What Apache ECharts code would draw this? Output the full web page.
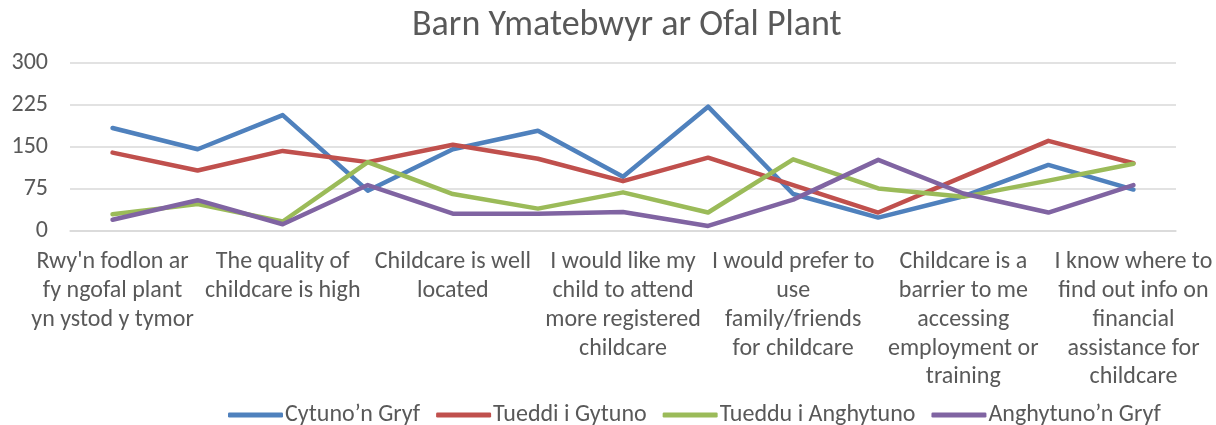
<!DOCTYPE html>
<html>
<head>
<meta charset="utf-8">
<script src="https://cdn.jsdelivr.net/npm/echarts@6/dist/echarts.min.js"></script>
<style>
    html, body {margin: 0; padding: 0; background: #fff;}
    #chart {width: 1216px; height: 425px;}
</style>
</head>
<body>
<div id="chart"></div>
<script>
    // categories: only every other one carries a label in the original
    const categories = [
        "Rwy'n fodlon ar\nfy ngofal plant\nyn ystod y tymor", '',
        'The quality of\nchildcare is high', '',
        'Childcare is well\nlocated', '',
        'I would like my\nchild to attend\nmore registered\nchildcare', '',
        'I would prefer to\nuse\nfamily/friends\nfor childcare', '',
        'Childcare is a\nbarrier to me\naccessing\nemployment or\ntraining', '',
        'I know where to\nfind out info on\nfinancial\nassistance for\nchildcare'
    ];
    const seriesNames = ['Cytuno’n Gryf', 'Tueddi i Gytuno', 'Tueddu i Anghytuno', 'Anghytuno’n Gryf'];
    const cytuno = [184, 146, 207, 72, 146, 179, 97, 222, 66, 24, 62, 118, 74];
    const tueddiGytuno = [140, 108, 143, 123, 154, 129, 89, 131, 82, 33, 97, 161, 121];
    const tueddiAnghytuno = [30, 48, 17, 123, 66, 40, 69, 33, 128, 76, 61, 90, 120];
    const anghytuno = [20, 55, 12, 82, 31, 31, 34, 9, 56, 127, 67, 33, 82];
    const yTicks = [0, 75, 150, 225, 300];
    const colors = ['#4F81BD', '#C0504D', '#9BBB59', '#8064A2'];

    const font = 'Carlito, Calibri, Lato, sans-serif';
    const chart = echarts.init(document.getElementById('chart'));

    const makeLine = (name, data) => ({
        name: name,
        type: 'line',
        data: data,
        symbol: 'none',
        lineStyle: {width: 4.5, cap: 'round', join: 'round'}
    });

    const option = {
        color: colors,
        animation: false,
        title: {
            text: 'Barn Ymatebwyr ar Ofal Plant',
            left: 407,
            top: 3,
            textStyle: {fontFamily: font, fontSize: 36, fontWeight: 'normal', color: '#595959'}
        },
        grid: {left: 70, right: 40, top: 63, bottom: 194, containLabel: false},
        legend: {
            top: 398,
            left: 223,
            icon: 'roundRect',
            itemWidth: 55,
            itemHeight: 5,
            itemGap: 16,
            textStyle: {fontFamily: font, fontSize: 24, color: '#595959', padding: [0, 0, 0, -3]},
            data: seriesNames
        },
        xAxis: {
            type: 'category',
            data: categories,
            boundaryGap: true,
            axisLine: {lineStyle: {color: '#d9d9d9', width: 1.5}},
            axisTick: {show: false},
            axisLabel: {
                interval: 0,
                margin: 17,
                fontFamily: font,
                fontSize: 24,
                lineHeight: 28.75,
                color: '#595959',
                verticalAlign: 'top'
            }
        },
        yAxis: {
            type: 'value',
            min: yTicks[0],
            max: yTicks[yTicks.length - 1],
            interval: yTicks[1] - yTicks[0],
            axisLine: {show: false},
            axisTick: {show: false},
            splitLine: {lineStyle: {color: '#d9d9d9', width: 1.5}},
            axisLabel: {margin: 22, fontFamily: font, fontSize: 24, color: '#595959'}
        },
        series: [
            makeLine(seriesNames[0], cytuno),
            makeLine(seriesNames[1], tueddiGytuno),
            makeLine(seriesNames[2], tueddiAnghytuno),
            makeLine(seriesNames[3], anghytuno)
        ]
    };

    chart.setOption(option);
</script>
</body>
</html>
